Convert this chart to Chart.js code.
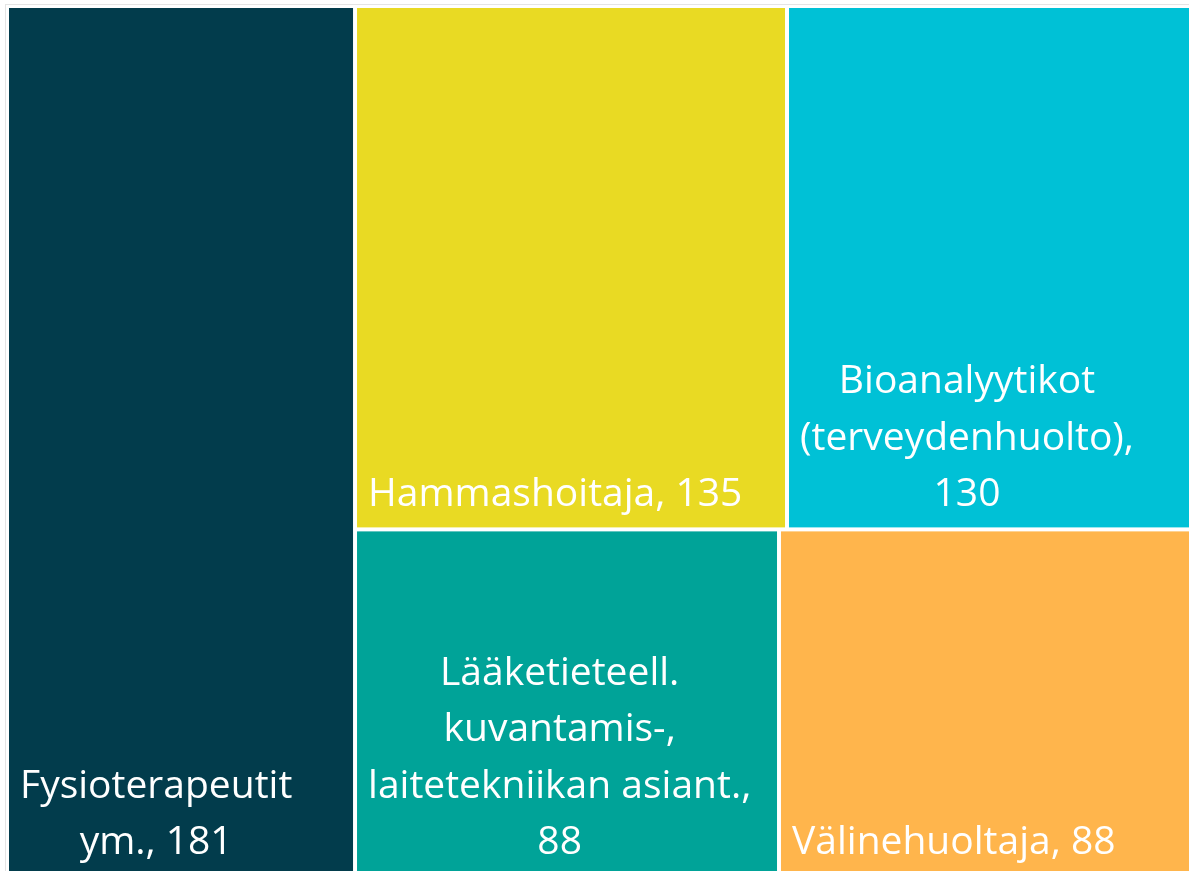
<!DOCTYPE html>
<html>
<head>
<meta charset="utf-8">
<script src="https://cdn.jsdelivr.net/npm/chart.js@4.4.1/dist/chart.umd.min.js"></script>
<style>
  html, body { margin: 0; padding: 0; background: #fff; overflow: hidden; }
  #treemap { display: block; }
</style>
</head>
<body>
<canvas id="treemap" width="1210" height="885"></canvas>
<script>
const categories = [
  "Fysioterapeutit ym.",
  "Hammashoitaja",
  "Bioanalyytikot (terveydenhuolto)",
  "Lääketieteell. kuvantamis-, laitetekniikan asiant.",
  "Välinehuoltaja"
];
const values = [181, 135, 130, 88, 88];
const colors = ["#023c4c", "#e9da23", "#00c1d6", "#00a398", "#ffb54c"];
// ryhmittely kuten Excelin puukartassa: ensin sarake, sitten rivit
const strips = [[0], [1, 2], [3, 4]];

// laskee solut datayksiköissä (0..100 molemmilla akseleilla)
function layoutCells(xScale, yScale) {
  const pxX = Math.abs(xScale.getPixelForValue(100) - xScale.getPixelForValue(0)) / 100;
  const pxY = Math.abs(yScale.getPixelForValue(100) - yScale.getPixelForValue(0)) / 100;
  let box = { x0: 0, y0: 0, x1: 100, y1: 100 };
  let remaining = values.reduce((a, b) => a + b, 0);
  const cells = [];
  strips.forEach((strip, si) => {
    const sum = strip.reduce((a, i) => a + values[i], 0);
    const f = sum / remaining;
    const w = box.x1 - box.x0, h = box.y1 - box.y0;
    let column = w * pxX >= h * pxY;
    // viimeinen ryhmä täyttää loput: jaetaan pitkän sivun suuntaan
    if (si === strips.length - 1) column = !column;
    if (column) {
      // pystysarake vasemmalle
      const cw = w * f;
      let y = box.y0;
      strip.forEach(i => {
        const ch = h * values[i] / sum;
        cells.push({ i, x0: box.x0, x1: box.x0 + cw, y0: y, y1: y + ch });
        y += ch;
      });
      box = { x0: box.x0 + cw, y0: box.y0, x1: box.x1, y1: box.y1 };
    } else {
      // vaakarivi ylös
      const rh = h * f;
      let x = box.x0;
      strip.forEach(i => {
        const cw = w * values[i] / sum;
        cells.push({ i, x0: x, x1: x + cw, y0: box.y0, y1: box.y0 + rh });
        x += cw;
      });
      box = { x0: box.x0, y0: box.y0 + rh, x1: box.x1, y1: box.y1 };
    }
    remaining -= sum;
  });
  return cells;
}

function wrapText(ctx, text, maxW) {
  const words = text.split(" ");
  const lines = [];
  let line = "";
  words.forEach(w => {
    const test = line ? line + " " + w : w;
    if (line && ctx.measureText(test).width > maxW) {
      lines.push(line);
      line = w;
    } else {
      line = test;
    }
  });
  if (line) lines.push(line);
  return lines;
}

const treemapPlugin = {
  id: "treemapCells",
  beforeDraw(chart) {
    const { ctx, chartArea } = chart;
    ctx.save();
    ctx.strokeStyle = "#e4e4e4";
    ctx.lineWidth = 1;
    ctx.strokeRect(chartArea.left - 1.5, chartArea.top - 1.5, chartArea.width + 10, chartArea.height + 10);
    ctx.restore();
  },
  afterDatasetsDraw(chart) {
    const { ctx } = chart;
    const xs = chart.scales.x, ys = chart.scales.y;
    const cells = layoutCells(xs, ys);
    const gap = 2;
    const fontSize = 39;
    const lineH = 56.5;
    ctx.save();
    cells.forEach(c => {
      const l = xs.getPixelForValue(c.x0), r = xs.getPixelForValue(c.x1);
      const t = ys.getPixelForValue(c.y0), b = ys.getPixelForValue(c.y1);
      ctx.fillStyle = colors[c.i];
      ctx.fillRect(l + gap, t + gap, r - l - 2 * gap, b - t - 2 * gap);

      ctx.font = fontSize + 'px "Open Sans", "Noto Sans", sans-serif';
      ctx.fillStyle = "#ffffff";
      ctx.textBaseline = "alphabetic";
      ctx.textAlign = "center";
      const label = categories[c.i] + ", " + values[c.i];
      const lines = wrapText(ctx, label, r - l - 16);
      const blockW = Math.max(...lines.map(s => ctx.measureText(s).width));
      const cx = l + 13 + blockW / 2;
      const lastBase = b - 23;
      lines.forEach((s, k) => {
        ctx.fillText(s, cx, lastBase - (lines.length - 1 - k) * lineH);
      });
    });
    ctx.restore();
  }
};

new Chart(document.getElementById("treemap"), {
  type: "scatter",
  data: { datasets: [{ data: [] }] },
  options: {
    responsive: false,
    animation: false,
    layout: { padding: { left: 7, top: 6, right: 7, bottom: 8 } },
    scales: {
      x: { type: "linear", min: 0, max: 100, display: false },
      y: { type: "linear", min: 0, max: 100, reverse: true, display: false }
    },
    plugins: { legend: { display: false }, tooltip: { enabled: false } }
  },
  plugins: [treemapPlugin]
});
</script>
</body>
</html>
